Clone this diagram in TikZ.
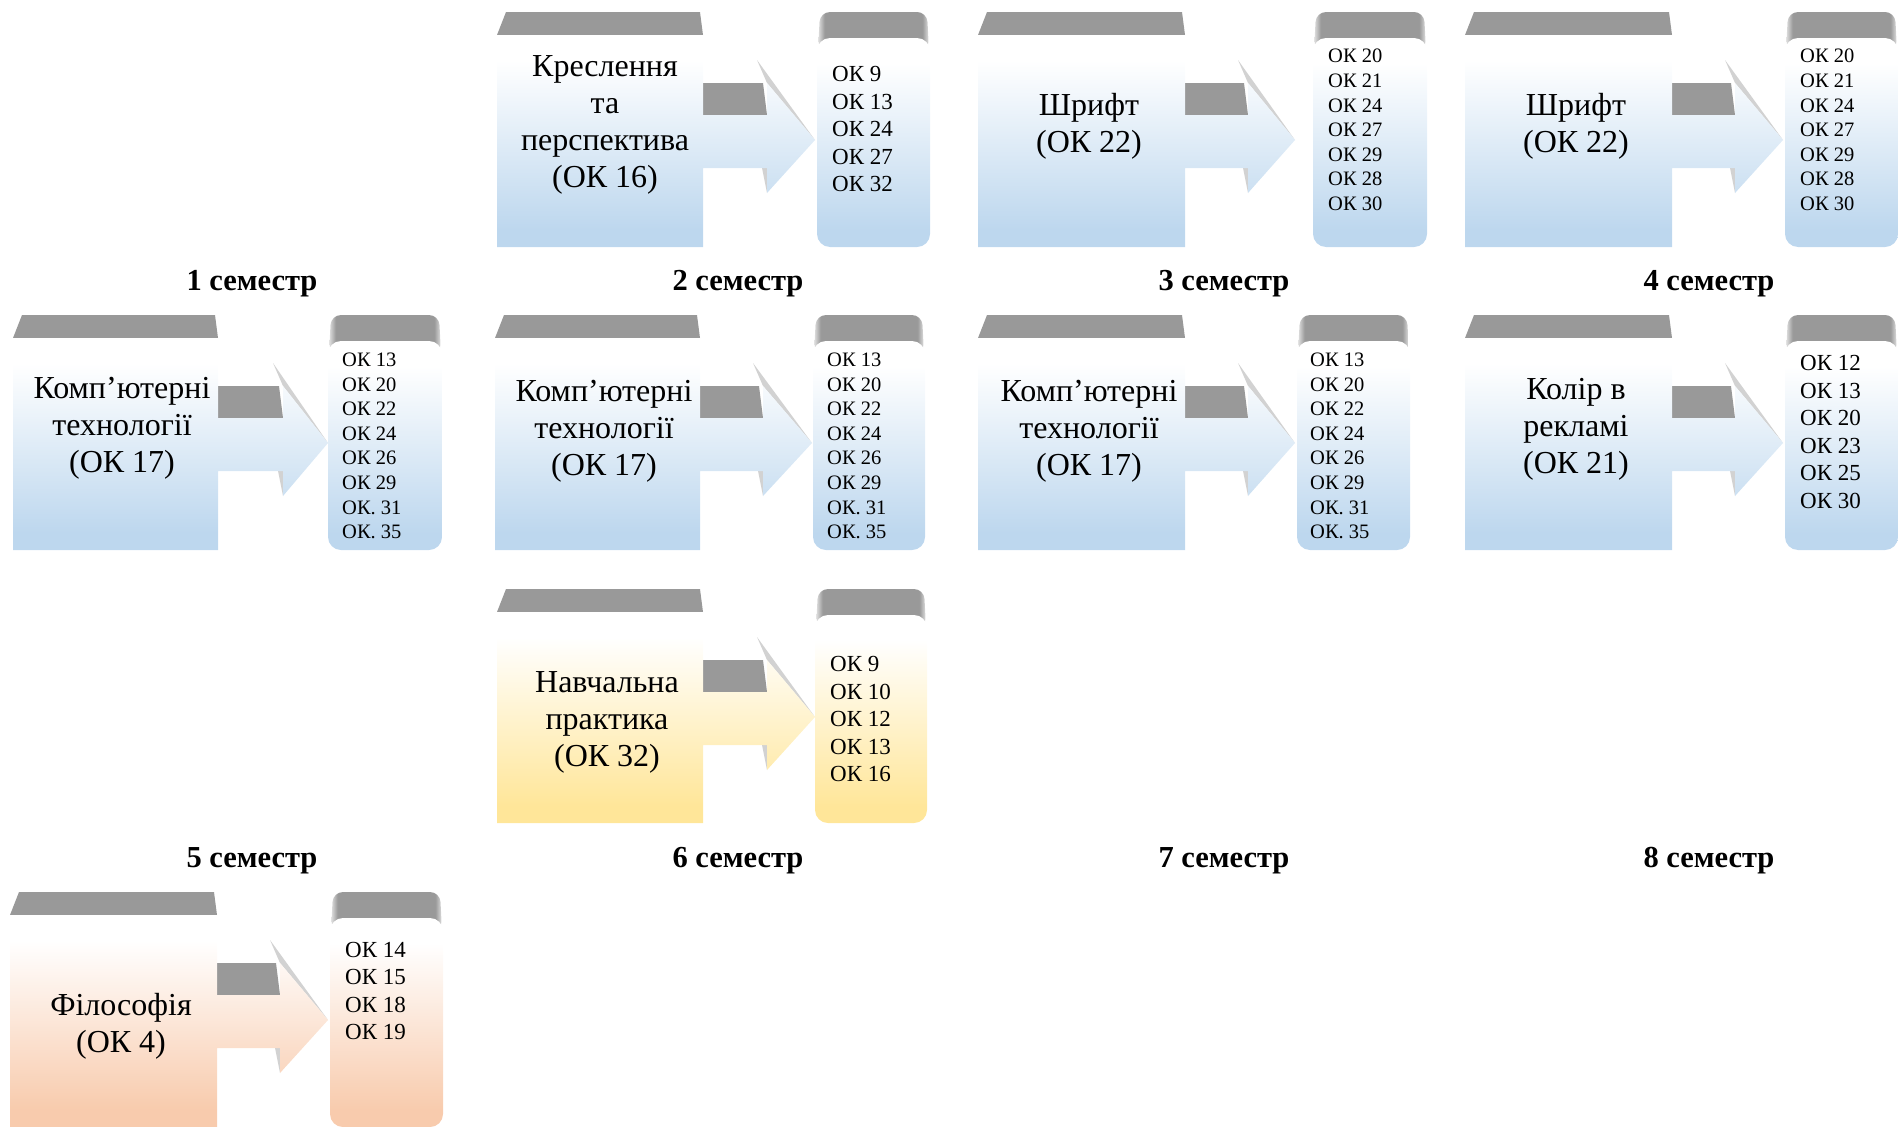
\documentclass[tikz,border=0pt]{standalone}
\usepackage{fontspec}
\setmainfont{Liberation Serif}
\definecolor{cBlue}{HTML}{BDD7EE}
\definecolor{cYel}{HTML}{FFE699}
\definecolor{cPch}{HTML}{F8CBAD}
\definecolor{cDark}{HTML}{999999}
\definecolor{cSide}{HTML}{D2D2D2}
\definecolor{cTabE}{HTML}{E2E2E2}
\pgfdeclareverticalshading{gBlue}{100bp}{color(0bp)=(cBlue); color(29bp)=(cBlue); color(69bp)=(white); color(100bp)=(white)}
\pgfdeclareverticalshading{gYel}{100bp}{color(0bp)=(cYel); color(29bp)=(cYel); color(69bp)=(white); color(100bp)=(white)}
\pgfdeclareverticalshading{gPch}{100bp}{color(0bp)=(cPch); color(29bp)=(cPch); color(69bp)=(white); color(100bp)=(white)}
\pgfdeclarehorizontalshading{gTab}{100bp}{color(0bp)=(cTabE); color(25bp)=(cTabE); color(28bp)=(cDark); color(72bp)=(cDark); color(75bp)=(cTabE); color(100bp)=(cTabE)}
\tikzset{
  maintxt/.style={align=center, font=\fontsize{32}{37}\selectfont, inner sep=0pt},
  biglist/.style={align=left, anchor=west, font=\fontsize{23}{27.5}\selectfont, inner sep=0pt},
  smalllist/.style={align=left, anchor=west, font=\fontsize{20.5}{24.6}\selectfont, inner sep=0pt},
  semlbl/.style={font=\fontsize{30.5}{34}\selectfont\bfseries, anchor=base, inner sep=0pt},
  darkface/.style={fill=cDark},
  sideface/.style={fill=cSide},
}
% #1 L, #2 R, #3 T, #4 B, #5 shaft end, #6 tip, #7 rl, #8 rr, #9 shading
\newcommand\unitblk[9]{%
  \fill[darkface] (#1,#3) -- (#1+9,#3-23) -- (#2-3,#3-23) -- (#2,#3) -- cycle;
  \fill[sideface] (#5-10,#3+25) -- (#6,#3+105) -- (#5,#3+48) -- cycle;
  \fill[sideface] (#5-5,#3+133) -- (#5,#3+133) -- (#5,#3+158) -- cycle;
  \fill[darkface] (#2,#3+48) -- (#5-4,#3+48) -- (#5,#3+80) -- (#2,#3+80) -- cycle;
  \shade[shading=#9] (#1,#3) -- (#2,#3) -- (#2,#3+80) -- (#5,#3+80) -- (#5,#3+48)
     -- (#6,#3+105) -- (#5,#3+158) -- (#5,#3+133) -- (#2,#3+133) -- (#2,#4) -- (#1,#4) -- cycle;
  \shade[shading=gTab, rounded corners=10pt] (#7+1,#3+16) -- (#7+3,#3-23) -- (#8-3,#3-23) -- (#8-1,#3+16) -- cycle;
  \shade[shading=#9, rounded corners=13pt] (#7,#3+3) rectangle (#8,#4);
}
\begin{document}
\begin{tikzpicture}[x=1pt,y=-1pt]
\useasboundingbox (0,0) rectangle (1898,1127);
% row 1
\unitblk{497}{703}{35}{247}{767}{815}{817}{930}{gBlue}
\node[maintxt] (m2) at (605,125) {Креслення\\та\\перспектива\\(ОК 16)};
\node[biglist] (l2) at (832,129) {ОК 9\\ОК 13\\ОК 24\\ОК 27\\ОК 32};
\unitblk{978}{1185}{35}{247}{1248}{1295}{1313}{1427}{gBlue}
\node[maintxt] (m3) at (1089,126) {Шрифт\\(ОК 22)};
\node[smalllist] (l3) at (1328,130) {ОК 20\\ОК 21\\ОК 24\\ОК 27\\ОК 29\\ОК 28\\ОК 30};
\unitblk{1465}{1672}{35}{247}{1735}{1783}{1785}{1898}{gBlue}
\node[maintxt] (m4) at (1576,126) {Шрифт\\(ОК 22)};
\node[smalllist] (l4) at (1800,130) {ОК 20\\ОК 21\\ОК 24\\ОК 27\\ОК 29\\ОК 28\\ОК 30};
% semester labels
\node[semlbl] (s1) at (252,290) {1 семестр};
\node[semlbl] (s2) at (738,290) {2 семестр};
\node[semlbl] (s3) at (1224,290) {3 семестр};
\node[semlbl] (s4) at (1709,290) {4 семестр};
% row 2
\unitblk{13}{218}{338}{550}{283}{328}{328}{442}{gBlue}
\node[maintxt] (m5) at (122,428) {Комп’ютерні\\технології\\(ОК 17)};
\node[smalllist] (l5) at (342,446) {ОК 13\\ОК 20\\ОК 22\\ОК 24\\ОК 26\\ОК 29\\ОК. 31\\ОК. 35};
\unitblk{495}{700}{338}{550}{763}{812}{813}{925}{gBlue}
\node[maintxt] (m6) at (604,431) {Комп’ютерні\\технології\\(ОК 17)};
\node[smalllist] (l6) at (827,446) {ОК 13\\ОК 20\\ОК 22\\ОК 24\\ОК 26\\ОК 29\\ОК. 31\\ОК. 35};
\unitblk{978}{1185}{338}{550}{1248}{1295}{1297}{1410}{gBlue}
\node[maintxt] (m7) at (1089,431) {Комп’ютерні\\технології\\(ОК 17)};
\node[smalllist] (l7) at (1310,446) {ОК 13\\ОК 20\\ОК 22\\ОК 24\\ОК 26\\ОК 29\\ОК. 31\\ОК. 35};
\unitblk{1465}{1672}{338}{550}{1735}{1783}{1785}{1898}{gBlue}
\node[maintxt] (m8) at (1576,429) {Колір в\\рекламі\\(ОК 21)};
\node[biglist] (l8) at (1800,432) {ОК 12\\ОК 13\\ОК 20\\ОК 23\\ОК 25\\ОК 30};
% row 3
\unitblk{497}{703}{612}{823}{767}{815}{815}{927}{gYel}
\node[maintxt] (m9) at (607,722) {Навчальна\\практика\\(ОК 32)};
\node[biglist] (l9) at (830,719) {ОК 9\\ОК 10\\ОК 12\\ОК 13\\ОК 16};
% semester labels 5-8
\node[semlbl] (s5) at (252,867) {5 семестр};
\node[semlbl] (s6) at (738,867) {6 семестр};
\node[semlbl] (s7) at (1224,867) {7 семестр};
\node[semlbl] (s8) at (1709,867) {8 семестр};
% row 4
\unitblk{10}{217}{915}{1127}{280}{328}{330}{443}{gPch}
\node[maintxt] (m10) at (121,1026) {Філософія\\(ОК 4)};
\node[biglist] (l10) at (345,991) {ОК 14\\ОК 15\\ОК 18\\ОК 19};
\end{tikzpicture}
\end{document}
